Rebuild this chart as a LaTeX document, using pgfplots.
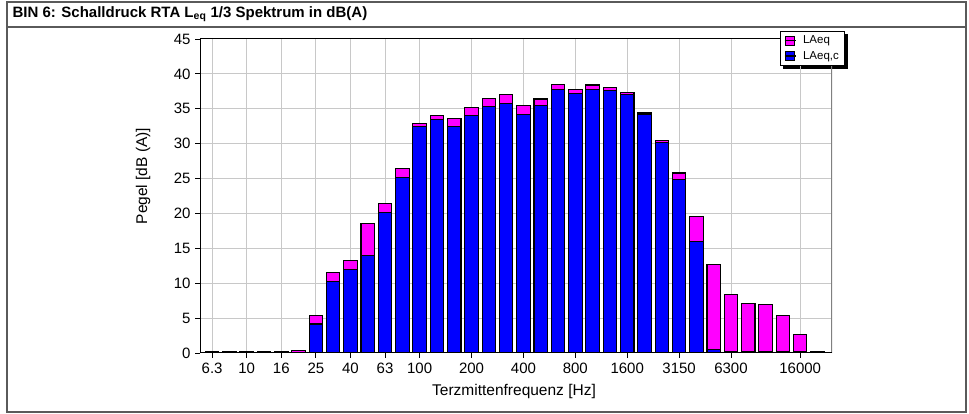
\documentclass[border=0pt]{standalone}
\usepackage{fontspec}
\setmainfont{Liberation Sans}
\usepackage{pgfplots}
\pgfplotsset{compat=1.18}
\pgfdeclarelayer{background}
\pgfsetlayers{background,main}
\definecolor{magbar}{RGB}{255,0,255}
\definecolor{bluebar}{RGB}{0,0,255}
\definecolor{gridgray}{RGB}{200,200,200}
\definecolor{framegray}{RGB}{90,90,90}
\begin{document}
\begin{tikzpicture}[x=1pt,y=1pt]
\path[use as bounding box] (0,0) rectangle (969,414);
\draw[framegray, line width=1.2pt] (7,2) rectangle (966,412);
\draw[framegray, line width=1.5pt] (7,387) -- (966,387);
\node[anchor=west, font=\fontsize{15}{17}\selectfont\bfseries] at (9,400) {BIN 6: Schalldruck RTA L\textsubscript{eq} 1/3 Spektrum in dB(A)};
\begin{axis}[
  at={(200pt,61pt)}, anchor=south west,
  width=632pt, height=314pt, scale only axis,
  xmin=-0.7, xmax=35.84, ymin=0, ymax=45,
  ytick={0,5,...,45},
  xtick={0,2,4,6,8,10,12,15,18,21,24,27,30,34},
  xticklabels={6.3,10,16,25,40,63,100,200,400,800,1600,3150,6300,16000},
  xtick pos=bottom, ytick pos=left,
  tick align=outside, major tick length=5pt,
  tick style={black, line width=0.8pt},
  grid=major, grid style={gridgray, line width=1pt},
  axis line style={draw=none},
  tick label style={font=\fontsize{15}{16}\selectfont},
  /pgf/number format/assume math mode=true,
  yticklabel style={xshift=-1pt},
  xticklabel style={yshift=-1pt},
  ybar, bar width=13.5pt,
  legend style={at={(rel axis cs:0.917,1.027)}, anchor=north west,
    name=leg,
    draw=black, line width=0.8pt, fill=white,
    font=\fontsize{11.5}{13}\selectfont,
    inner xsep=4pt, inner ysep=3pt, row sep=2pt,
    /tikz/every odd column/.style={column sep=5pt}},
  legend cell align=left,
]
\addplot[ybar, bar shift=0pt, fill=magbar, draw=black, line width=1.1pt,
  legend image code/.code={\draw[fill=magbar, draw=black, line width=0.8pt] (0pt,-4.5pt) rectangle (9pt,4.5pt); \path (-1pt,0pt) -- (10pt,0pt);}]
coordinates {
(0,0.2) (1,0.2) (2,0.2) (3,0.2) (4,0.2) (5,0.3) (6,5.4) (7,11.5) (8,13.3) (9,18.6)
(10,21.4) (11,26.4) (12,32.9) (13,34.0) (14,33.6) (15,35.2) (16,36.5) (17,37.0) (18,35.5) (19,36.4)
(20,38.5) (21,37.8) (22,38.4) (23,38.1) (24,37.3) (25,34.4) (26,30.5) (27,25.8) (28,19.6) (29,12.7)
(30,8.4) (31,7.1) (32,7.0) (33,5.4) (34,2.6) (35,0.2)
};
\addlegendentry{LAeq}
\addplot[ybar, bar shift=0pt, fill=bluebar, draw=black, line width=1.1pt,
  legend image code/.code={\draw[fill=bluebar, draw=black, line width=0.8pt] (0pt,-4.5pt) rectangle (9pt,4.5pt); \path (-1pt,0pt) -- (10pt,0pt);}]
coordinates {
(0,0.15) (1,0.15) (2,0.15) (3,0.15) (4,0.15) (6,4.15) (7,10.2) (8,12.0) (9,14.0)
(10,20.1) (11,25.1) (12,32.4) (13,33.5) (14,32.4) (15,34.0) (16,35.3) (17,35.7) (18,34.2) (19,35.5)
(20,37.7) (21,37.2) (22,37.8) (23,37.6) (24,37.0) (25,34.2) (26,30.2) (27,24.9) (28,16.0) (29,0.5)
(30,0.25) (31,0.2) (32,0.2) (33,0.2) (34,0.2) (35,0.2)
};
\addlegendentry{LAeq,c}
\draw[black, line width=1pt] (rel axis cs:0,1) -- (rel axis cs:1,1);
\draw[gray, line width=1.5pt] (rel axis cs:1,0) -- (rel axis cs:1,1);
\draw[black, line width=2pt] (rel axis cs:0,1) -- (rel axis cs:0,0) -- (rel axis cs:1,0);
\end{axis}
\begin{pgfonlayer}{background}
\fill[black] ([shift={(3pt,-3pt)}]leg.south west) rectangle ([shift={(3pt,-3pt)}]leg.north east);
\end{pgfonlayer}
\node[rotate=90, font=\fontsize{15.5}{17}\selectfont] at (143,238) {Pegel [dB (A)]};
\node[font=\fontsize{15.5}{17}\selectfont] at (514,23) {Terzmittenfrequenz [Hz]};
\end{tikzpicture}
\end{document}
